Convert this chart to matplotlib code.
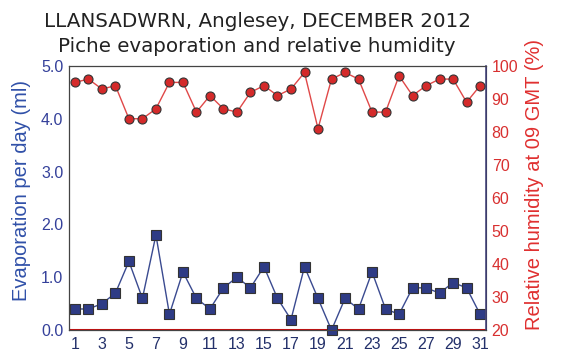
import numpy as np
import matplotlib.pyplot as plt

days = list(range(1, 32))
evap = [0.4, 0.4, 0.5, 0.7, 1.3, 0.6, 1.8, 0.3, 1.1, 0.6, 0.4, 0.8, 1.0, 0.8, 1.2, 0.6,
        0.2, 1.2, 0.6, 0.0, 0.6, 0.4, 1.1, 0.4, 0.3, 0.8, 0.8, 0.7, 0.9, 0.8, 0.3]
rh = [95, 96, 93, 94, 84, 84, 87, 95, 95, 86, 91, 87, 86, 92, 94, 91,
      93, 98, 81, 96, 98, 96, 86, 86, 97, 91, 94, 96, 96, 89, 94]

navy = '#2E3B85'
red = '#D42A2A'
lab_font = 'Liberation Sans'

fig = plt.figure(figsize=(5.64, 3.6), dpi=100)
ax1 = fig.add_axes([0.122, 0.083, 0.74, 0.734])
ax2 = ax1.twinx()

ax1.axhline(0, color='#CC1111', lw=2.2, zorder=1)
ax1.plot(days, evap, color='#3A4A90', lw=1, marker='s', ms=7,
         mfc=navy, mec='#333333', mew=0.8, zorder=3, clip_on=False)
ax2.plot(days, rh, color='#E04848', lw=1, marker='o', ms=6.5,
         mfc=red, mec='#333333', mew=0.8, zorder=3, clip_on=False)

ax1.set_xlim(0.55, 31.45)
ax1.set_ylim(0, 5)
ax2.set_ylim(20, 100)
ax1.set_xticks(range(1, 32, 2))
ax1.set_yticks(np.arange(0, 5.01, 1.0))
ax1.set_yticklabels(['%.1f' % v for v in np.arange(0, 5.01, 1.0)])
ax2.set_yticks(range(20, 101, 10))

ax1.tick_params(axis='x', length=0, labelsize=11.5, labelcolor='#23306A', pad=5)
ax1.tick_params(axis='y', length=0, labelsize=11.5, labelcolor='#34409A', pad=4)
ax2.tick_params(axis='y', length=0, labelsize=11.5, labelcolor='#D83030', pad=4)
for t in ax1.get_xticklabels() + ax1.get_yticklabels() + ax2.get_yticklabels():
    t.set_fontfamily(lab_font)

ax1.set_ylabel('Evaporation per day (ml)', color='#3050A8', fontsize=14.5, family=lab_font)
ax2.set_ylabel('Relative humidity at 09 GMT (%)', color='#E03030', fontsize=14.5, family=lab_font)
ax1.yaxis.set_label_coords(-0.09, 0.53)
ax2.yaxis.set_label_coords(1.093, 0.55)

for s in ['top', 'left', 'bottom']:
    ax2.spines[s].set_color('#444444')
ax2.spines['right'].set_color('#4A4A80')
ax2.spines['right'].set_linewidth(1.2)

fig.text(0.456, 0.94, 'LLANSADWRN, Anglesey, DECEMBER 2012', ha='center', va='center',
         fontsize=14.3, color='#222222')
fig.text(0.456, 0.87, 'Piche evaporation and relative humidity', ha='center', va='center',
         fontsize=14.3, color='#222222')

fig.savefig('out.png', dpi=100)
